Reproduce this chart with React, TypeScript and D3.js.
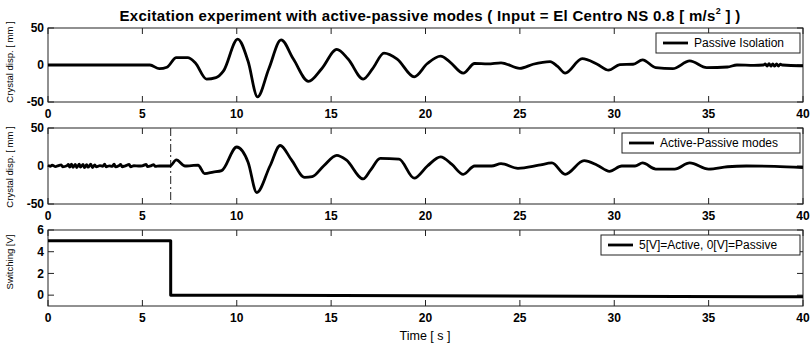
import React from 'react';
import * as d3 from 'd3';

// ---------------- data ----------------
const xTicks = [0, 5, 10, 15, 20, 25, 30, 35, 40];
const dispTicks = [-50, 0, 50];
const switchTicks = [0, 2, 4, 6];
const switchTime = 6.5;

const passive: [number, number][] = [
  [0, 0], [5.4, 0], [5.9, -5], [6.3, -3], [6.8, 10], [7.4, 10], [7.8, 3], [8.4, -19], [8.9, -17], [9.3, -8],
  [10.05, 35], [10.6, 5], [11.1, -43], [11.7, -5], [12.35, 34], [13.0, 8], [13.8, -22], [14.5, -5],
  [15.3, 21], [15.9, 8], [16.7, -19], [17.2, -5], [17.8, 16], [18.5, 8], [19.4, -16], [20.1, 2],
  [20.8, 12], [21.3, 4], [22.0, -11], [22.6, 2], [23.3, 1.5], [24.0, 3], [25.0, -4.5], [25.7, 1],
  [26.6, 4.5], [27.0, -2], [27.4, -11], [28.3, 8.6], [29.1, 1], [29.7, -7], [30.3, 0.5], [31.0, 1],
  [31.5, 7], [32.2, -3.6], [33.1, -5], [34.0, 5.5], [34.9, -3.6], [36.0, -2.7], [36.5, 0], [37.4, -0.5],
  [37.9, 0], [38.0, 1.5], [38.1, -1.5], [38.2, 1.8], [38.3, -1.5], [38.4, 1.6], [38.5, -1.6], [38.6, 1.4],
  [38.7, -1.4], [38.8, 1.2], [38.9, 0], [39.8, -1], [40, -1],
];

const active: [number, number][] = [
  [0, 1], [0.12, -0.5], [0.22, 1.2], [0.4, -0.8], [0.55, 0.5], [0.7, 1.5], [0.78, -1], [1.0, 0.3], [1.08, 2],
  [1.15, -1.5], [1.25, 2.5], [1.32, -1.8], [1.45, 2.2], [1.52, -2], [1.66, 2.5], [1.72, -1.5], [1.86, 2], [1.93, -2.2],
  [2.05, 1.8], [2.12, -1.6], [2.27, 2.4], [2.35, -2], [2.48, 1.5], [2.56, -1], [2.75, 0.5], [2.9, -0.3], [3.0, 2.5],
  [3.08, -1], [3.25, 0.2], [3.4, -0.5], [3.5, 2.5], [3.58, -1.2], [3.75, 0.3], [3.85, 2], [3.93, -1], [4.1, 0.2],
  [4.3, 2], [4.38, -1], [4.55, 0.3], [4.8, 0], [5.0, 0.3], [5.2, 2], [5.28, -0.8], [5.45, 0.2], [5.6, 1.8],
  [5.68, -0.5], [5.9, 0], [6.46, 0], [6.8, 8], [7.26, 0], [7.6, 0.5], [7.95, 1], [8.3, -10], [8.75, -8],
  [9.2, -6], [10.0, 25], [10.6, 5], [11.06, -35], [11.76, 0], [12.3, 27], [12.9, 8], [13.6, -15], [14.0, -14],
  [14.6, 0], [15.3, 14], [15.8, 8], [16.7, -17], [17.1, -5], [17.6, 10], [18.6, 9], [19.4, -16], [20.1, 0],
  [20.8, 12], [21.4, 2], [22.0, -11], [22.6, 0], [23.5, 0], [24.0, 3], [24.9, -3], [26.0, 1], [26.7, 4],
  [27.4, -11], [28.4, 7], [29.1, 1], [29.75, -7], [30.4, 0], [31.1, 0], [31.5, 4], [32.2, -4], [33.2, -4],
  [34.0, 4], [35.0, -4], [36.0, -1], [37.0, 0], [38.5, -0.5], [40, -2],
];

const switching: [number, number][] = [
  [0, 5], [6.5, 5], [6.5, 0], [40, -0.15],
];

const legendLabels = ['Passive Isolation', 'Active-Passive modes', '5[V]=Active, 0[V]=Passive'];

// ---------------- layout ----------------
const W = 812, H = 343;
const L = 48, R = 803;
const FONT = '"Liberation Sans", Arial, Helvetica, sans-serif';

const x = d3.scaleLinear().domain([0, 40]).range([L, R]);

type PanelDef = {
  top: number; bottom: number; domain: [number, number]; ticks: number[];
  data: [number, number][]; curve: any; legendLeft: number; ylabel: string; ylabelY: number; lw: number;
};

const panels: PanelDef[] = [
  { top: 28, bottom: 102, domain: [-50, 50], ticks: dispTicks, data: passive, curve: d3.curveMonotoneX, legendLeft: 656, ylabel: 'Crystal disp. [ mm ]', ylabelY: 62, lw: 2.8 },
  { top: 128, bottom: 204, domain: [-50, 50], ticks: dispTicks, data: active, curve: d3.curveMonotoneX, legendLeft: 622, ylabel: 'Crystal disp. [ mm ]', ylabelY: 167, lw: 2.8 },
  { top: 230, bottom: 306, domain: [-1, 6], ticks: switchTicks, data: switching, curve: d3.curveLinear, legendLeft: 601, ylabel: 'Switching [V]', ylabelY: 262, lw: 3 },
];

const TICK = 6;

function Panel({ p, i }: { p: PanelDef; i: number }) {
  const y = d3.scaleLinear().domain(p.domain).range([p.bottom, p.top]);
  const line = d3.line<[number, number]>().x(d => x(d[0])).y(d => y(d[1])).curve(p.curve);
  const lgTop = p.top + 5, lgH = 20, lgRight = 800;
  return (
    <g>
      <rect x={L} y={p.top} width={R - L} height={p.bottom - p.top} fill="white" stroke="#222" strokeWidth={1} />
      {xTicks.map(t => (
        <g key={'x' + t}>
          <line x1={x(t)} x2={x(t)} y1={p.bottom} y2={p.bottom - TICK} stroke="#222" />
          <line x1={x(t)} x2={x(t)} y1={p.top} y2={p.top + TICK} stroke="#222" />
          <text x={x(t)} y={p.bottom + 15.5} textAnchor="middle" fontSize={12} fontWeight="bold" fontFamily={FONT}>{t}</text>
        </g>
      ))}
      {p.ticks.map(t => (
        <g key={'y' + t}>
          <line x1={L} x2={L + TICK} y1={y(t)} y2={y(t)} stroke="#222" />
          <line x1={R} x2={R - TICK} y1={y(t)} y2={y(t)} stroke="#222" />
          <text x={L - 4} y={y(t)} dy="0.36em" textAnchor="end" fontSize={12} fontWeight="bold" fontFamily={FONT}>{t}</text>
        </g>
      ))}
      {i === 1 && (
        <line x1={x(switchTime)} x2={x(switchTime)} y1={p.top} y2={p.bottom} stroke="#222" strokeWidth={1} strokeDasharray="8,3,2,3" />
      )}
      <path d={line(p.data) || ''} fill="none" stroke="black" strokeWidth={p.lw} strokeLinejoin="round" />
      <text transform={`translate(13,${p.ylabelY}) rotate(-90)`} textAnchor="middle" fontSize={9.5} fontFamily={FONT}>{p.ylabel}</text>
      <rect x={p.legendLeft} y={lgTop} width={lgRight - p.legendLeft} height={lgH} fill="white" stroke="#222" strokeWidth={1} />
      <line x1={p.legendLeft + 7} x2={p.legendLeft + 32} y1={lgTop + lgH / 2} y2={lgTop + lgH / 2} stroke="black" strokeWidth={2.8} />
      <text x={p.legendLeft + 38} y={lgTop + lgH / 2} dy="0.36em" fontSize={12} fontFamily={FONT}>{legendLabels[i]}</text>
    </g>
  );
}

export default function App() {
  return (
    <svg width={W} height={H} style={{ position: 'absolute', left: 0, top: 0, background: 'white' }}>
      <rect x={0} y={0} width={W} height={H} fill="white" />
      {panels.map((p, i) => <Panel key={i} p={p} i={i} />)}
      <text x={430} y={21} textAnchor="middle" fontSize={15} fontWeight="bold" letterSpacing={0.3} fontFamily={FONT}>
        Excitation experiment with active-passive modes ( Input = El Centro NS 0.8 [ m/s
        <tspan dx={0} dy={-7} fontSize={9}>2</tspan>
        <tspan dy={7}> ] )</tspan>
      </text>
      <text x={425} y={340} textAnchor="middle" fontSize={12.5} fontFamily={FONT}>Time [ s ]</text>
    </svg>
  );
}
